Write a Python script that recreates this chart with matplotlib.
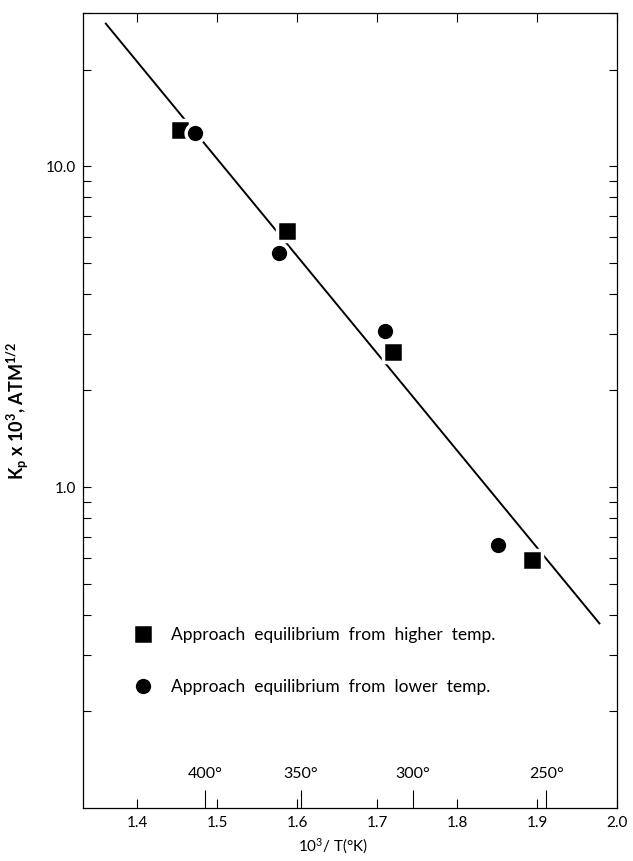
import numpy as np
import matplotlib
matplotlib.use("Agg")
import matplotlib.pyplot as plt
from matplotlib.ticker import NullFormatter, LogLocator, FixedLocator

plt.rcParams['font.family'] = ['Lato', 'DejaVu Sans']
plt.rcParams['mathtext.default'] = 'regular'

# data
sq_x = [1.454, 1.5875, 1.720, 1.894]     # approach from higher temp
sq_y = [12.95, 6.26, 2.64, 0.591]
ci_x = [1.4725, 1.5775, 1.710, 1.851]    # approach from lower temp
ci_y = [12.7, 5.35, 3.07, 0.659]
fit_x = [1.361, 1.978]                   # drawn straight line
fit_y = [27.8, 0.376]

x_ticks = [1.4, 1.5, 1.6, 1.7, 1.8, 1.9, 2.0]
y_ticks = [1.0, 10.0]
y_tick_labels = ['1.0', '10.0']
temps_c = [400, 350, 300, 250]

fig = plt.figure(figsize=(6.33, 8.61), dpi=100)
ax = fig.add_axes([83/633, 1-808/861, (617-83)/633, (808-13)/861])

ax.plot(fit_x, fit_y, color='black', lw=1.4, zorder=2)
ax.plot(sq_x, sq_y, ls='none', marker='s', ms=14, mfc='black', mec='white', mew=2.5,
        zorder=3, label='Approach  equilibrium  from  higher  temp.')
ax.plot(ci_x, ci_y, ls='none', marker='o', ms=13.5, mfc='black', mec='white', mew=2.5,
        zorder=3, label='Approach  equilibrium  from  lower  temp.')

ax.set_yscale('log')
ax.set_xlim(1.3325, 2.0)
ax.set_ylim(0.1, 30)

ax.set_xticks(x_ticks)
ax.set_xticklabels(['%.1f' % v for v in x_ticks])
ax.yaxis.set_major_locator(FixedLocator(y_ticks))
ax.set_yticklabels(y_tick_labels)
ax.yaxis.set_minor_locator(LogLocator(base=10, subs=np.arange(2, 10)))
ax.yaxis.set_minor_formatter(NullFormatter())

ax.tick_params(axis='x', which='major', direction='in', top=True, length=6.5, width=0.8,
               labelsize=11, pad=6)
ax.tick_params(axis='y', which='both', direction='in', right=True, length=5.5, width=0.8,
               labelsize=11, pad=5)
for s in ax.spines.values():
    s.set_linewidth(0.9)

# temperature scale (deg C) drawn inside along the bottom
def k_to_c(x):
    x = np.asarray(x, dtype=float)
    with np.errstate(divide='ignore'):
        return 1000.0 / x - 273.15

def c_to_k(c):
    c = np.asarray(c, dtype=float)
    with np.errstate(divide='ignore'):
        return 1000.0 / (c + 273.15)

sec = ax.secondary_xaxis(0.0, functions=(k_to_c, c_to_k))
sec.set_alignment('top')
sec.spines['top'].set_visible(False)
sec.set_xticks(temps_c)
sec.set_xticklabels(['%d°' % t for t in temps_c])
sec.tick_params(axis='x', direction='out', length=13, width=0.8, pad=6.5, labelsize=11.5)

ax.set_xlabel(r'10$^{3}$/ T(°K)', fontsize=11)
ax.xaxis.set_label_coords((333-83)/534, -0.036)
ax.set_ylabel(r'K$_{p}$ x 10$^{3}$, ATM$^{1/2}$', fontsize=13, fontweight='bold')
ax.yaxis.set_label_coords(-0.098, 0.5)

ax.legend(loc='upper left', bbox_to_anchor=(0.096, 0.228), frameon=False,
          handlelength=1.0, handletextpad=1.1, borderpad=0, borderaxespad=0,
          labelspacing=2.1, fontsize=12.5, numpoints=1)

fig.savefig('out.png', dpi=100)
